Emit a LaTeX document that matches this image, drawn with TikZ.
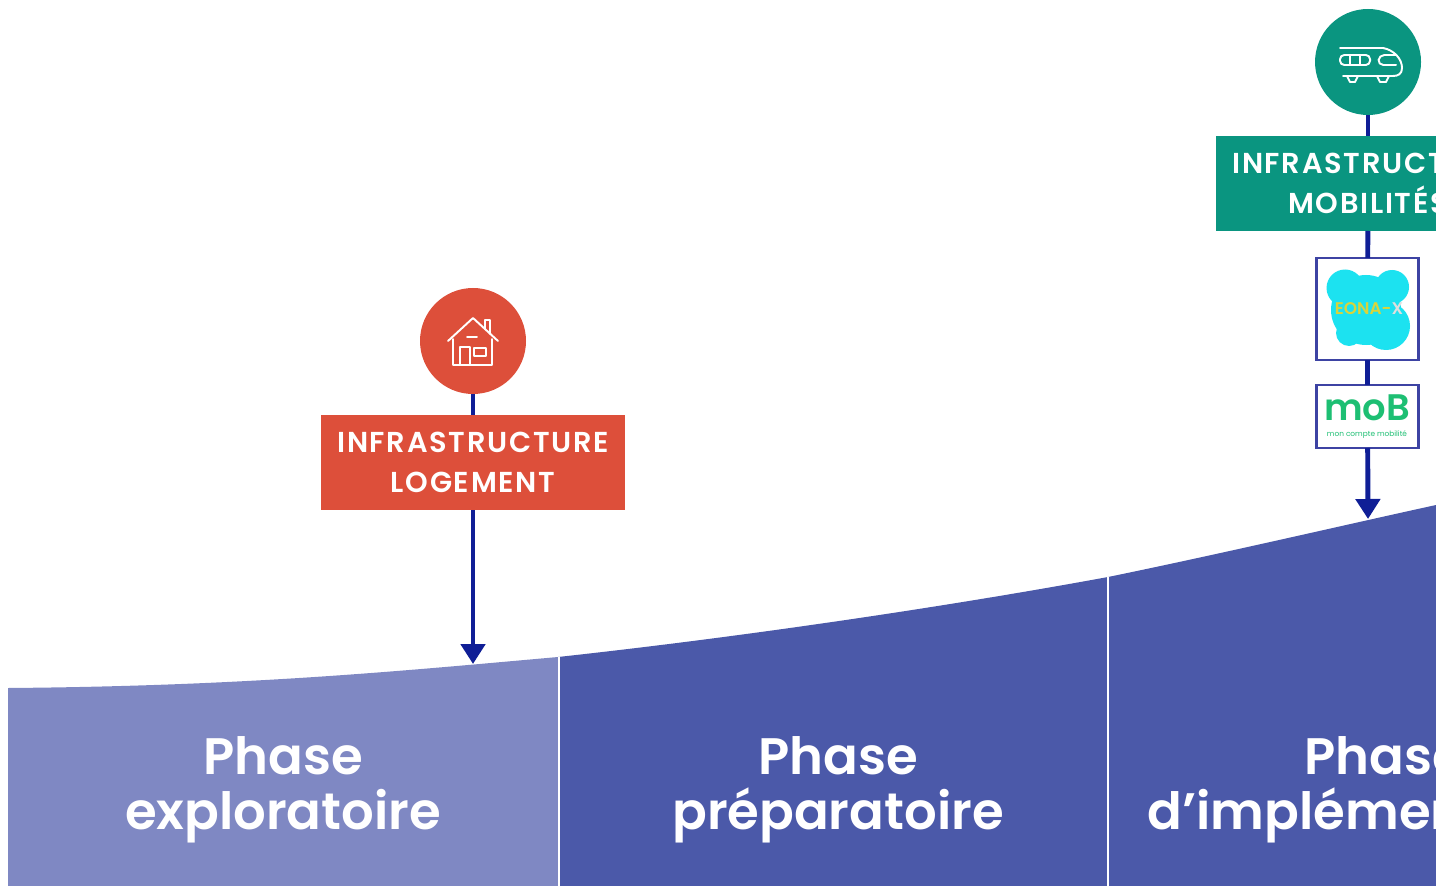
\documentclass[tikz,border=0pt]{standalone}
\usepackage{fontspec}
\setmainfont{Poppins}[BoldFont={Poppins SemiBold}]
\usetikzlibrary{arrows.meta}

\definecolor{phaseLight}{HTML}{7F88C3}
\definecolor{phaseDark}{HTML}{4B59A9}
\definecolor{lineBlue}{HTML}{0F1E96}
\definecolor{frameBlue}{HTML}{3D43A3}
\definecolor{infraRed}{HTML}{DD4F3A}
\definecolor{infraGreen}{HTML}{0A9580}
\definecolor{eonaCyan}{HTML}{1CE2F0}
\definecolor{eonaYellow}{HTML}{D8D43C}
\definecolor{mobGreen}{HTML}{1DBF73}

\tikzset{
  every node/.style={outer sep=0pt},
  link/.style={->,>={Triangle[width=2.4mm,length=2mm]},line width=1.4pt,lineBlue},
  iconline/.style={white,line width=0.55pt,line join=round,line cap=round},
  badge/.style={circle,minimum size=1.06cm,inner sep=0pt},
  infrabox/.style={minimum width=3.04cm,minimum height=0.95cm,inner sep=0pt,align=center,
    text=white,font=\fontsize{8.2}{11.4}\selectfont\bfseries\addfontfeature{LetterSpace=6}},
  logobox/.style={draw=frameBlue,line width=0.6pt,fill=white,minimum width=1.02cm,inner sep=0pt},
  phaselabel/.style={text=white,align=center,font=\fontsize{14.6}{15.7}\selectfont\bfseries},
}

\begin{document}
\begin{tikzpicture}
        \useasboundingbox (0,0) rectangle (14.36,8.86);
        \clip (0,0) rectangle (14.36,8.86);

        % phase panels under the curve
        \begin{scope}
          \clip (0.08,0) -- (0.08,1.98) .. controls (2.5,2.0) and (4,2.15) .. (5.58,2.29)
            .. controls (7.5,2.5) and (9.5,2.8) .. (11.08,3.09)
            .. controls (12.2,3.32) and (13.4,3.6) .. (14.36,3.81) -- (14.36,0) -- cycle;
          \fill[phaseLight] (0,0) rectangle (5.58,4);
          \fill[phaseDark] (5.58,0) rectangle (14.36,4);
          \draw[white,line width=0.6pt] (5.59,0) -- (5.59,4);
          \draw[white,line width=0.6pt] (11.08,0) -- (11.08,4);
        \end{scope}

        \node[phaselabel] (explo) at (2.83,0.96) {Phase\\exploratoire};
        \node[phaselabel] (prepa) at (8.38,0.96) {Phase\\préparatoire};
        \node[phaselabel] (imple) at (13.84,0.96) {Phase\\d’implémentation};

        % logement column
        \coordinate (logementEnd) at (4.73,2.22);
        \node[badge,fill=infraRed] (logementIcon) at (4.73,5.45) {};
        \node[infrabox,fill=infraRed] (logementBox) at (4.73,4.235) {INFRASTRUCTURE\\LOGEMENT};
        \draw[link,-] (logementIcon) -- (logementBox);
        \draw[link] (logementBox) -- (logementEnd);

        % mobilites column
        \coordinate (mobiliteEnd) at (13.68,3.67);
        \node[badge,fill=infraGreen] (mobiliteIcon) at (13.68,8.24) {};
        \node[infrabox,fill=infraGreen] (mobiliteBox) at (13.68,7.025) {INFRASTRUCTURE\\MOBILITÉS};
        \node[logobox,minimum height=1.02cm] (eonaBox) at (13.675,5.77) {};
        \node[logobox,minimum height=0.63cm] (mobBox) at (13.675,4.695) {};
        \draw[link,-] (mobiliteIcon) -- (mobiliteBox);
        \draw[link,-] (mobiliteBox) -- (eonaBox);
        \draw[link,-] (eonaBox) -- (mobBox);
        \draw[link] (mobBox) -- (mobiliteEnd);

        % eona logo
        \fill[eonaCyan] (13.66,5.76) circle(.35);
        \fill[eonaCyan] (13.86,5.60) circle(.24);
        \fill[eonaCyan] (13.92,5.99) circle(.17);
        \fill[eonaCyan] (13.45,5.98) circle(.185);
        \fill[eonaCyan] (13.49,5.53) circle(.13);
        \node[inner sep=0pt,text=eonaYellow,font=\fontsize{4.8}{6}\selectfont\bfseries] (eonaText) at (13.69,5.77)
          {EONA-\textcolor{white!75!gray}{X}};

        % mob logo
        \node[inner sep=0pt,text=mobGreen,font=\fontsize{10.5}{12}\selectfont\bfseries] (mobText) at (13.67,4.78) {moB};
        \node[inner sep=0pt,text=mobGreen,font=\fontsize{2.1}{3}\selectfont] (mobSub) at (13.67,4.51) {mon compte mobilité};

        % house icon
        \begin{scope}[shift={(logementIcon.center)}]
          \draw[iconline] (-.25,0) -- (0,.23) -- (.25,0);
          \draw[iconline] (-.2,.02) -- (-.2,-.24) -- (.19,-.24) -- (.19,.02);
          \draw[iconline] (-.13,-.24) -- (-.13,-.06) -- (-.03,-.06) -- (-.03,-.24);
          \draw[iconline] (.01,-.07) rectangle (.13,-.15);
          \draw[iconline] (-.06,.04) -- (.04,.04);
          \draw[iconline] (.12,.12) -- (.12,.21) -- (.17,.21) -- (.17,.07);
        \end{scope}

        % train icon
        \begin{scope}[shift={(mobiliteIcon.center)}]
          \draw[iconline] (-.28,.14) -- (.15,.14) .. controls (.26,.12) and (.34,.03) .. (.34,-.06)
            .. controls (.34,-.12) and (.3,-.14) .. (.25,-.14) -- (-.25,-.14);
          \draw[iconline,rounded corners=1.2pt] (-.28,-.03) rectangle (.02,.07);
          \draw[iconline] (-.18,-.03) -- (-.18,.07) (-.08,-.03) -- (-.08,.07);
          \draw[iconline,rounded corners=1.5pt] (.28,.07) -- (.11,.07) -- (.10,-.03) -- (.28,-.03);
          \draw[iconline] (-.21,-.14) -- (-.18,-.2) -- (-.13,-.2) -- (-.1,-.14);
          \draw[iconline] (.09,-.14) -- (.12,-.2) -- (.18,-.2) -- (.21,-.14);
        \end{scope}

      \end{tikzpicture}
\end{document}
